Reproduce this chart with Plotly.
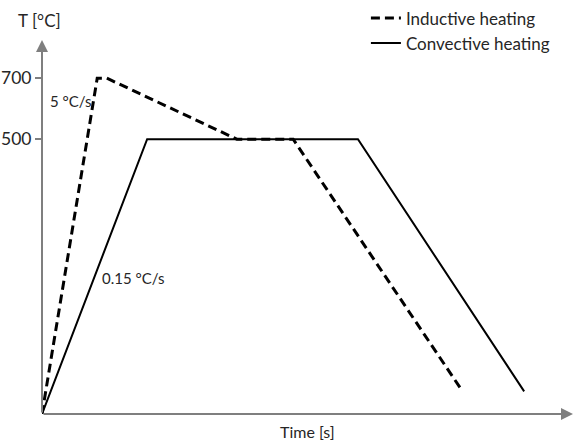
import plotly.graph_objects as go

# Schematic data (time in arbitrary units, temperature in °C on a schematic scale)
ind_time = [0, 10.4, 12.2, 36.7, 47.3, 78.7]
ind_temp = [-400, 700, 700, 500, 500, -313]
conv_time = [0, 19.8, 59.5, 90.8]
conv_temp = [-400, 500, 500, -326]
series_names = ["Inductive heating", "Convective heating"]
y_ticks = [700, 500]
y_tick_labels = ["700", "500"]
rate_labels = ["5 °C/s", "0.15 °C/s"]

FONT = "Lato"
AXIS_COLOR = "#7f7f7f"
TEXT_COLOR = "#262626"

fig = go.Figure()
fig.add_trace(go.Scatter(x=ind_time, y=ind_temp, mode="lines", name=series_names[0],
                         line=dict(color="black", width=3, dash="9px,5px")))
fig.add_trace(go.Scatter(x=conv_time, y=conv_temp, mode="lines", name=series_names[1],
                         line=dict(color="black", width=2)))

fig.update_layout(
    width=574, height=441,
    margin=dict(l=42, r=1, t=40, b=27, autoexpand=False),
    paper_bgcolor="white", plot_bgcolor="white",
    font=dict(family=FONT, color=TEXT_COLOR),
    showlegend=True,
    legend=dict(x=0.61, y=1.106, xanchor="left", yanchor="top",
                itemwidth=30, font=dict(size=17, family=FONT, color=TEXT_COLOR),
                tracegroupgap=0, bgcolor="rgba(0,0,0,0)"),
    xaxis=dict(range=[0, 100], showgrid=False, zeroline=False, showline=False,
               showticklabels=False, ticks=""),
    yaxis=dict(range=[-400, 825], showgrid=False, zeroline=False, showline=False,
               tickvals=y_ticks, ticktext=y_tick_labels, ticks="outside",
               ticklen=6, tickwidth=1.5, tickcolor=AXIS_COLOR,
               tickfont=dict(size=17.5, family=FONT, color=TEXT_COLOR)),
)

# axes with arrowheads
fig.add_annotation(x=1.0, y=0, xref="x domain", yref="y domain", ax=0, ay=0,
                   axref="x domain", ayref="y domain", showarrow=True, arrowhead=2,
                   arrowsize=1.2, arrowwidth=2, arrowcolor=AXIS_COLOR, text="")
fig.add_annotation(x=0, y=1.0, xref="x domain", yref="y domain", ax=0, ay=0,
                   axref="x domain", ayref="y domain", showarrow=True, arrowhead=2,
                   arrowsize=1.2, arrowwidth=2, arrowcolor=AXIS_COLOR, text="")

# labels
fig.add_annotation(x=-0.004, y=1.053, xref="paper", yref="paper",
                   text="T [°C]", showarrow=False, xanchor="center", yanchor="middle",
                   font=dict(size=17, family=FONT, color=TEXT_COLOR))
fig.add_annotation(x=0.5, y=-0.015, xref="paper", yref="paper", text="Time [s]",
                   showarrow=False, xanchor="center", yanchor="top",
                   font=dict(size=16, family=FONT, color=TEXT_COLOR))
fig.add_annotation(x=1.1, y=624, xref="x", yref="y", text=rate_labels[0],
                   showarrow=False, xanchor="left", yanchor="middle",
                   font=dict(size=15, family=FONT, color=TEXT_COLOR))
fig.add_annotation(x=10.9, y=47, xref="x", yref="y", text=rate_labels[1],
                   showarrow=False, xanchor="left", yanchor="middle",
                   font=dict(size=15, family=FONT, color=TEXT_COLOR))

fig.write_html("out.html", config={"displayModeBar": False},
               post_script="document.body.style.margin='0';")
